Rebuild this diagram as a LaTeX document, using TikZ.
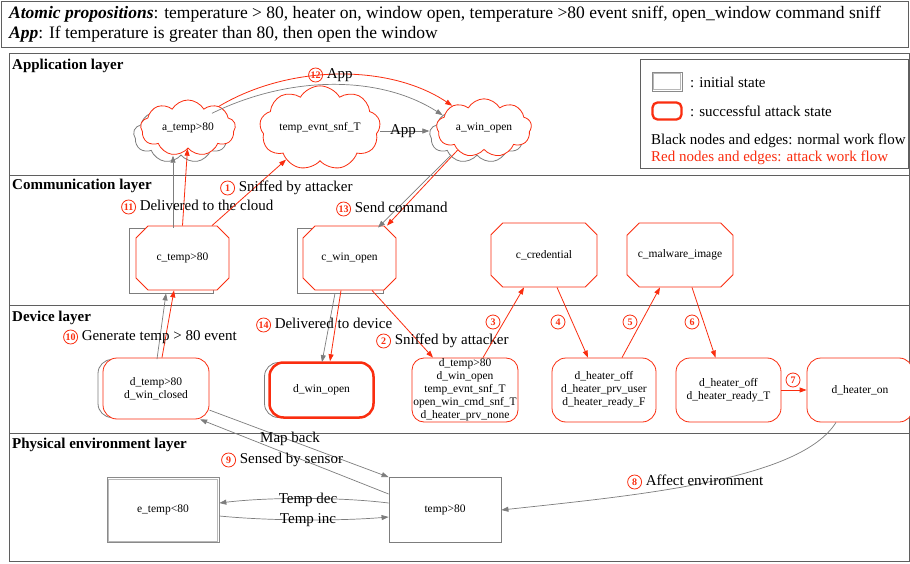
\documentclass[tikz,border=0pt]{standalone}
\usepackage{fontspec}
\setmainfont{Liberation Serif}
\usetikzlibrary{shapes.symbols,shapes.misc,arrows.meta}
\definecolor{atk}{RGB}{250,45,15}
\definecolor{nrm}{RGB}{125,125,125}
\definecolor{frame}{RGB}{95,95,95}
% red circled step number
\newcommand{\cnum}[1]{\tikz[baseline=(cn.base)]\node[circle,draw=atk,text=atk,line width=0.8pt,inner sep=0pt,minimum size=14pt,font=\fontsize{10}{10}\selectfont\bfseries](cn){#1};}
\tikzset{
  nodefont/.style={font=\fontsize{11.5}{13}\selectfont},
  cloudR/.style={cloud, cloud puffs=9, cloud puff arc=120, aspect=1.75, draw=atk, fill=white,
    line width=0.8pt, minimum width=95pt, minimum height=56pt, inner sep=0pt, nodefont},
  cloudG/.style={cloudR, draw=nrm},
  chamR/.style={chamfered rectangle, chamfered rectangle xsep=7pt, chamfered rectangle ysep=7pt,
    draw=atk, fill=white, line width=0.8pt, minimum width=93pt, minimum height=64pt, inner sep=0pt, nodefont},
  chamG/.style={chamR, draw=nrm},
  devR/.style={rectangle, rounded corners=14pt, draw=atk, fill=white, line width=0.8pt,
    minimum width=106pt, minimum height=62pt, align=center, inner sep=0pt, nodefont},
  devG/.style={devR, draw=nrm},
  envbox/.style={rectangle, draw=nrm, fill=white, line width=0.8pt, minimum width=112pt,
    minimum height=65pt, inner sep=0pt, nodefont},
  ne/.style={draw=nrm, line width=0.7pt, -{Triangle[length=7pt,width=5pt]}},
  ae/.style={draw=atk, line width=0.8pt, -{Triangle[length=7pt,width=5pt]}},
  labfont/.style={font=\fontsize{15}{17}\selectfont},
  elab/.style={labfont, inner sep=0pt, anchor=west},
  clab/.style={inner sep=0pt},
  layertitle/.style={font=\fontsize{15}{17}\selectfont\bfseries, anchor=west, inner sep=0pt},
  frameline/.style={draw=frame, line width=0.9pt},
  legtext/.style={font=\fontsize{15}{17}\selectfont, anchor=west, inner sep=0pt},
}
\begin{document}
\begin{tikzpicture}[x=1pt,y=-1pt]
\useasboundingbox (0,0) rectangle (910,564);
\fill[white] (0,0) rectangle (910,564);

% ---------- header ----------
\draw[frameline] (1.5,1.5) rectangle (908,47);
\node[anchor=west, inner sep=0pt, font=\fontsize{17.5}{19}\selectfont] (hdr1) at (9,14)
  {\textbf{\textit{Atomic propositions}}: temperature > 80, heater on, window open, temperature >80 event sniff, open\_window command sniff};
\node[anchor=west, inner sep=0pt, font=\fontsize{17.5}{19}\selectfont] (hdr2) at (9,34)
  {\textbf{\textit{App}}: If temperature is greater than 80, then open the window};

% ---------- layer frame ----------
\draw[frameline] (9,53) rectangle (909,561);
\draw[frameline] (9,175) -- (909,175);
\draw[frameline] (9,305) -- (909,305);
\draw[frameline] (9,433) -- (909,433);
\node[layertitle] (t1) at (12,66) {Application layer};
\node[layertitle] (t2) at (12,186) {Communication layer};
\node[layertitle] (t3) at (12,318) {Device layer};
\node[layertitle] (t4) at (12,445) {Physical environment layer};

% ---------- legend ----------
\draw[frameline] (640,59) rectangle (908,168);
\node[draw=nrm!90, line width=0.7pt, minimum width=30pt, minimum height=19pt, inner sep=0pt] (legInit) at (667,81.5) {};
\draw[nrm!55, line width=0.6pt] ([xshift=1.6pt,yshift=-1.6pt]legInit.north west) rectangle ([xshift=-1.6pt,yshift=1.6pt]legInit.south east);
\node[legtext] (legInitT) at (690,82) {: initial state};
\node[draw=atk, rounded corners=5pt, line width=2.3pt, minimum width=29pt, minimum height=17pt, inner sep=0pt] (legAtk) at (667,111) {};
\node[legtext] (legAtkT) at (690,111) {: successful attack state};
\node[legtext] (legBlack) at (651,141) {Black nodes and edges: normal work flow};
\node[legtext, text=atk] (legRed) at (651,158) {Red nodes and edges: attack work flow};

% ---------- application layer ----------
\node[cloudG] (atempS) at (181,135) {};
\node[cloudR] (atemp) at (188,128) {a\_temp>80};
\node[cloudR] (aevt) at (320,128) {temp\_evnt\_snf\_T};
\node[cloudG] (awinS) at (477,135) {};
\node[cloudR] (awin) at (484,128) {a\_win\_open};

\draw[ne] (atempS.35) .. controls (290,75) and (380,75) .. (awinS.150);
\draw[ae] (atemp.35) .. controls (290,64) and (390,64) .. (awin.145);
\node[elab] (l12) at (308,75) {\cnum{12} App};
\draw[ne] ([yshift=-3pt]aevt.east) -- ([yshift=-3pt]aevt.east -| awinS.west);
\node[labfont, inner sep=0pt] (lapp) at (403,131) {App};

% ---------- communication layer ----------
\node[chamG, minimum width=84pt, minimum height=65pt] (ctempS) at (171,260.5) {};
\node[chamR] (ctemp) at (182.5,258) {c\_temp>80};
\node[chamG, minimum width=86pt, minimum height=65pt] (cwinS) at (340,260.5) {};
\node[chamR] (cwin) at (349.5,258) {c\_win\_open};
\node[chamR, minimum width=106pt] (ccred) at (544,255) {c\_credential};
\node[chamR, minimum width=106pt] (cmal) at (680,255) {c\_malware\_image};

% ---------- device layer ----------
\node[devG, minimum height=58pt] (dtempS) at (151,388.5) {};
\node[devR, minimum height=61pt] (dtemp) at (156,388.5) {d\_temp>80\\d\_win\_closed};
\node[devG, minimum width=104pt, minimum height=55pt] (dwinS) at (316.5,390) {};
\node[devR, minimum width=104pt, minimum height=55pt, line width=2.5pt] (dwin) at (321.5,390) {d\_win\_open};
\node[devR, minimum height=64pt, rounded corners=12pt] (dtemp5) at (465,390)
  {d\_temp>80\\d\_win\_open\\temp\_evnt\_snf\_T\\open\_win\_cmd\_snf\_T\\d\_heater\_prv\_none};
\node[devR, minimum width=104pt, minimum height=64pt] (dheat1) at (604,390)
  {d\_heater\_off\\d\_heater\_prv\_user\\d\_heater\_ready\_F};
\node[devR, minimum width=105pt, minimum height=64pt] (dheat2) at (728.5,390)
  {d\_heater\_off\\d\_heater\_ready\_T};
\node[devR, minimum width=106pt, minimum height=64pt] (dheaton) at (860,390) {d\_heater\_on};

% ---------- physical environment layer ----------
\node[envbox, draw=nrm!90, line width=0.7pt] (etemp) at (163,510) {e\_temp<80};
\draw[nrm!55, line width=0.6pt] ([xshift=1.8pt,yshift=-1.8pt]etemp.north west) rectangle ([xshift=-1.8pt,yshift=1.8pt]etemp.south east);
\node[envbox] (tempH) at (445,510) {temp>80};

% ---------- connectors between layers ----------
\draw[ne] ([xshift=2pt]ctempS.north) -- ([xshift=2pt]ctempS.north |- atempS.south);
\draw[ae] (ctemp.north) -- ([xshift=-0.5pt]atemp.south);
\node[elab] (l11) at (121,207) {\cnum{11} Delivered to the cloud};
\draw[ae] ([xshift=29.5pt]ctemp.north) -- (aevt.223);
\node[elab] (l1) at (220,188) {\cnum{1} Sniffed by attacker};

\draw[ne] (awinS.218) -- ([xshift=38pt]cwinS.north);
\draw[ae] (awin.220) -- ([xshift=37.5pt]cwin.north);
\node[elab] (l13) at (336,209) {\cnum{13} Send command};

\draw[ne] ([xshift=-5pt]cwinS.south) -- ([xshift=5.5pt]dwinS.north);
\draw[ae] ([xshift=-8.5pt]cwin.south) -- ([xshift=8.5pt]dwin.north);
\node[elab] (l14) at (256,325) {\cnum{14} Delivered to device};

\draw[ae] ([xshift=22.5pt]cwin.south) -- ([xshift=-32pt]dtemp5.north);
\node[elab] (l2) at (376,341) {\cnum{2} Sniffed by attacker};

\draw[ae] ([xshift=18pt]dtemp5.north) -- ([xshift=-20pt]ccred.south);
\node[clab] (l3) at (493,322) {\cnum{3}};
\draw[ae] ([xshift=13pt]ccred.south) -- ([xshift=-16pt]dheat1.north);
\node[clab] (l4) at (558,322) {\cnum{4}};
\draw[ae] ([xshift=18pt]dheat1.north) -- ([xshift=-20pt]cmal.south);
\node[clab] (l5) at (630,322) {\cnum{5}};
\draw[ae] ([xshift=12pt]cmal.south) -- ([xshift=-13pt]dheat2.north);
\node[clab] (l6) at (692,322) {\cnum{6}};
\draw[ae] (dheat2.east) -- (dheaton.west);
\node[clab] (l7) at (793,380) {\cnum{7}};

\draw[ne] ([xshift=6pt]dtempS.north) -- ([xshift=-5pt]ctempS.south);
\draw[ae] ([xshift=6pt]dtemp.north) -- ([xshift=-8.5pt]ctemp.south);
\node[elab] (l10) at (63,337) {\cnum{10} Generate temp > 80 event};

\draw[ne] (dtemp.-22) -- (tempH.north west);
\node[labfont, inner sep=0pt] (lmap) at (290,439) {Map back};
\draw[ne] ([yshift=16pt]tempH.west) -- (dtemp.-35);
\node[elab] (l9) at (221,460) {\cnum{9} Sensed by sensor};

\draw[ne] ([yshift=7pt]tempH.west) .. controls (340,497) and (270,497) .. ([yshift=7pt]etemp.east);
\node[labfont, inner sep=0pt] (ldec) at (308,500) {Temp dec};
\draw[ne] ([yshift=-6pt]etemp.east) .. controls (270,521) and (340,521) .. ([yshift=-7pt]tempH.west);
\node[labfont, inner sep=0pt] (linc) at (308,520) {Temp inc};

\draw[ne] ([xshift=-24pt]dheaton.south) .. controls (800,480) and (640,495) .. (tempH.east);
\node[elab] (l8) at (627,482) {\cnum{8} Affect environment};
\end{tikzpicture}
\end{document}
